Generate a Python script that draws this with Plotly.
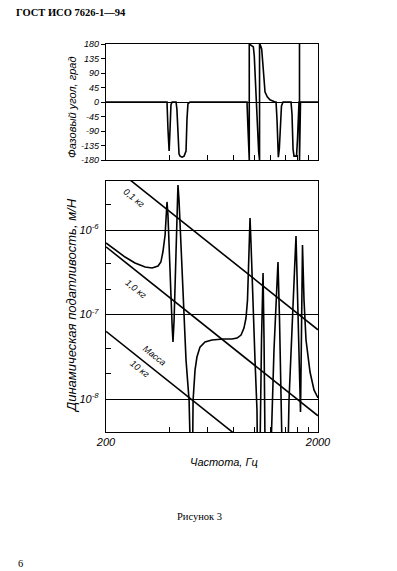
import plotly.graph_objects as go
import math

# ---------------- data ----------------
# Phase angle (deg) vs frequency (Hz)
freq_phase = [200, 388, 392, 397, 401, 405, 410, 428, 432, 437, 442, 447, 457, 467, 477, 482, 487, 498,
              925, 935, 942, 948, 948, 973, 991, 1001, 1012, 1023, 1035, 1050, 1060, 1060, 1071, 1085,
              1097, 1109, 1125, 1153, 1187, 1254, 1268, 1281, 1291, 1300, 1314, 1328, 1345, 1368,
              1492, 1508, 1525, 1541, 1584, 1601, 1615, 1627, 1636, 1636, 1636, 1654, 2000]
phase_deg = [0, 0, -84, -152, -84, -9, 0, 0, -22, -115, -161, -168, -171, -168, -152, -53, -6, 0,
             0, -84, -160, -180, 180, 176, 171, 143, 71, -3, -84, -155, -180, 180, 176, 164,
             124, 71, 31, 16, 7, 0, 0, -53, -146, -171, -146, -68, -12, 0,
             0, -37, -146, -168, -168, -115, -16, 0, 0, 180, -180, 0, 0]

# Dynamic compliance (m/N) vs frequency (Hz)
freq_comp = [200, 221, 246, 274, 306, 330, 352, 363, 371, 380, 384, 388, 392, 401, 405, 410, 414,
             419, 423, 428, 432, 437, 442, 452, 462, 477, 493, 509, 515, 526, 537, 555, 586, 632,
             713, 786, 830, 867, 895, 915, 930, 940, 950, 956, 966, 987, 1009, 1031, 1048, 1083,
             1101, 1113, 1143, 1240, 1274, 1295, 1317, 1345, 1398, 1460, 1508, 1550, 1575, 1610,
             1654, 1672, 1690, 1718, 1756, 1834, 1915, 2000]
compliance = [7.02e-7, 5.80e-7, 4.79e-7, 4.07e-7, 3.65e-7, 3.55e-7, 3.75e-7, 4.18e-7, 5.49e-7,
              8.73e-7, 1.50e-6, 2.15e-6, 1.50e-6, 4.42e-7, 1.70e-7, 7.5e-8, 4.73e-8,
              8.6e-8, 2.23e-7, 6.64e-7, 1.98e-6, 3.41e-6, 2.27e-6, 5.80e-7, 1.48e-7, 2.89e-8,
              9.7e-9, 3.7e-10, 9.7e-9, 2.20e-8, 3.14e-8, 4.12e-8, 4.73e-8, 4.99e-8,
              5.13e-8, 5.13e-8, 5.27e-8, 5.72e-8, 6.92e-8, 9.09e-8, 1.48e-7, 3.36e-7, 7.61e-7,
              1.39e-6, 7.02e-7, 1.19e-7, 2.89e-8, 7.4e-9, 1.24e-10, 4.99e-8,
              3.10e-7, 4.99e-8, 4.2e-11, 3.80e-8, 1.48e-7, 4.18e-7, 8.61e-8, 9.73e-9, 4.2e-11,
              9.73e-9, 8.61e-8, 3.36e-7, 8.49e-7, 6.55e-8,
              7.02e-9, 6.55e-8, 6.64e-7, 1.48e-7, 4.99e-8, 2.09e-8, 1.28e-8, 1.03e-8]

# Mass lines (compliance of a pure mass)
mass_freq = [200, 2000]
mass_01kg = [6.6e-6, 6.6e-8]
mass_1kg = [6.33e-7, 6.33e-9]
mass_10kg = [6.33e-8, 6.33e-10]

phase_ticks = [180, 135, 90, 45, 0, -45, -90, -135, -180]
phase_ticktext = ["180", "135", "90", "45", "0", "-45", "-90", "-135", "-180"]
comp_major = [1e-6, 1e-7, 1e-8]
comp_major_text = ["10<sup>-6</sup>", "10<sup>-7</sup>", "10<sup>-8</sup>"]
comp_minor = [2e-6, 4e-7, 2e-7, 4e-8, 2e-8, 4e-9]
freq_ticks = [200, 400, 600, 800, 1000, 1200, 1400, 1600, 1800, 2000]
freq_ticktext = ["200", "", "", "", "", "", "", "", "", "2000"]

# ---------------- figure ----------------
# the page body has an 8px margin; the figure is sized so it ends at the window edge
OFF = 8
PAGE_W, PAGE_H = 397, 571
W, H = PAGE_W - OFF, PAGE_H - OFF
# plot area in page pixels
X0, X1, Y0, Y1 = 106, 318, 44, 432
ML, MR, MT, MB = X0 - OFF, PAGE_W - X1, Y0 - OFF, PAGE_H - Y1
PW, PH = X1 - X0, Y1 - Y0


def px(x):
    return (x - X0) / PW


def py(y):
    return (Y1 - y) / PH


LINE = dict(color="black", width=1.6)
FONT = "Liberation Sans"

fig = go.Figure()
fig.add_trace(go.Scatter(x=freq_phase, y=phase_deg, mode="lines", line=LINE,
                         xaxis="x", yaxis="y", hoverinfo="skip"))
fig.add_trace(go.Scatter(x=freq_comp, y=compliance, mode="lines", line=LINE,
                         xaxis="x2", yaxis="y2", hoverinfo="skip"))
for vals in (mass_01kg, mass_1kg, mass_10kg):
    fig.add_trace(go.Scatter(x=mass_freq, y=vals, mode="lines", line=LINE,
                             xaxis="x2", yaxis="y2", hoverinfo="skip"))

xr = [math.log10(200), math.log10(2000)]
axis_common = dict(showline=True, mirror=True, linecolor="black", linewidth=1.4,
                   tickcolor="black", tickwidth=1, fixedrange=True)
tickfont = dict(family=FONT, size=11, color="black", style="italic")

fig.update_layout(
    width=W, height=H,
    margin=dict(l=ML, r=MR, t=MT, b=MB),
    paper_bgcolor="white", plot_bgcolor="white",
    showlegend=False,
    xaxis=dict(domain=[0, 1], anchor="y", type="log", range=xr,
               tickmode="array", tickvals=freq_ticks, showticklabels=False,
               ticks="inside", ticklen=5, showgrid=False, zeroline=False, **axis_common),
    yaxis=dict(domain=[py(160), 1], anchor="x", range=[-180, 180],
               tickmode="array", tickvals=phase_ticks, ticktext=phase_ticktext,
               ticks="outside", ticklen=4, showgrid=False,
               zeroline=True, zerolinecolor="black", zerolinewidth=1.3,
               tickfont=dict(family=FONT, size=9, color="black", style="italic"),
               **axis_common),
    xaxis2=dict(domain=[0, 1], anchor="y2", type="log", range=xr,
                tickmode="array", tickvals=freq_ticks, ticktext=freq_ticktext,
                ticks="inside", ticklen=5, showgrid=False, zeroline=False,
                tickfont=tickfont, **axis_common),
    yaxis2=dict(domain=[0, py(180.5)], anchor="x2", type="log", range=[-8.39, -5.414],
                tickmode="array", tickvals=comp_major, ticktext=comp_major_text,
                ticks="", showgrid=True, gridcolor="black", gridwidth=1.3,
                zeroline=False, tickfont=tickfont, ticklabelstandoff=4,
                minor=dict(tickmode="array", tickvals=comp_minor, ticks="inside",
                           ticklen=5, tickcolor="black", showgrid=False),
                **axis_common),
)

ann = []
# axis titles
ann.append(dict(text="Фазовый угол, град", x=px(72), y=py(108), xref="paper", yref="paper",
                textangle=-90, showarrow=False, xanchor="center", yanchor="middle",
                font=dict(family=FONT, size=11, color="black", style="italic")))
ann.append(dict(text="Динамическая податливость, м/Н", x=px(71), y=py(306), xref="paper",
                yref="paper", textangle=-90, showarrow=False, xanchor="center",
                yanchor="middle",
                font=dict(family=FONT, size=13, color="black", style="italic")))
ann.append(dict(text="Частота, Гц", x=px(224), y=py(462), xref="paper", yref="paper",
                showarrow=False, xanchor="center", yanchor="middle",
                font=dict(family=FONT, size=11, color="black", style="italic")))
# mass labels (along the mass lines)
for txt, lx, ly in [("0,1 кг", 2.433, -5.621), ("1,0 кг", 2.4425, -6.698),
                    ("Масса", 2.532, -7.491), ("10 кг", 2.461, -7.645)]:
    ann.append(dict(text=txt, x=lx, y=ly, xref="x2", yref="y2", textangle=38.6,
                    showarrow=False, xanchor="center", yanchor="middle",
                    font=dict(family=FONT, size=9, color="black", style="italic")))
# page texts
ann.append(dict(text="<b>ГОСТ ИСО 7626-1—94</b>", x=px(14), y=py(12), xref="paper",
                yref="paper", showarrow=False, xanchor="left", yanchor="middle",
                font=dict(family="Liberation Serif", size=10.5, color="black")))
ann.append(dict(text="Рисунок 3", x=px(199), y=py(516), xref="paper", yref="paper",
                showarrow=False, xanchor="center", yanchor="middle",
                font=dict(family="Liberation Serif", size=10.5, color="black")))
ann.append(dict(text="6", x=px(16), y=py(563), xref="paper", yref="paper",
                showarrow=False, xanchor="left", yanchor="middle",
                font=dict(family="Liberation Serif", size=10.5, color="black")))
fig.update_layout(annotations=ann)

fig.write_html("out.html")
